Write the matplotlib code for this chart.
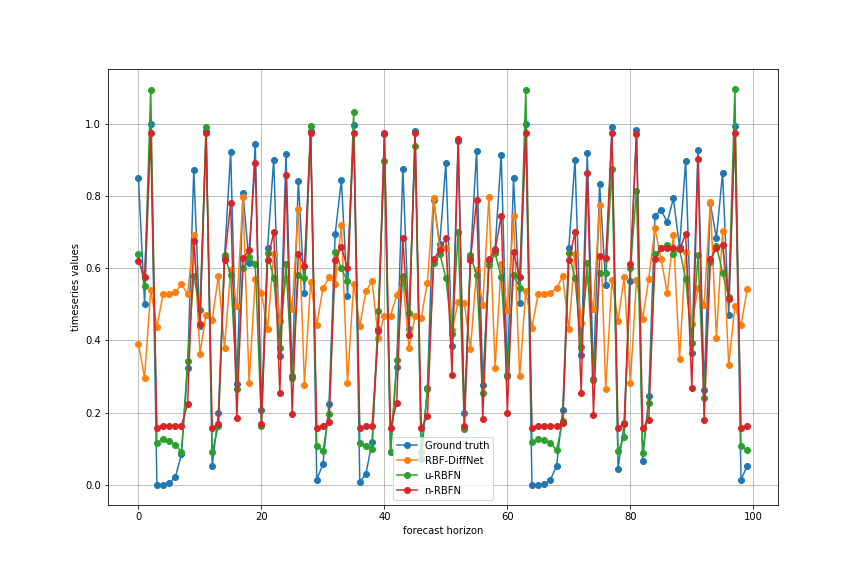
import matplotlib
matplotlib.use("Agg")
import matplotlib.pyplot as plt
import numpy as np

ground_truth = [0.85, 0.50, 1.00, 0.0, 0.0, 0.005, 0.021, 0.085, 0.322, 0.872,
                0.44, 0.98, 0.052, 0.198, 0.63, 0.921, 0.28, 0.807, 0.615, 0.944,
                0.206, 0.656, 0.90, 0.356, 0.917, 0.30, 0.842, 0.53, 0.98, 0.014,
                0.057, 0.225, 0.694, 0.844, 0.522, 0.997, 0.008, 0.03, 0.119, 0.43,
                0.97, 0.09, 0.326, 0.875, 0.431, 0.979, 0.07, 0.268, 0.789, 0.666,
                0.891, 0.383, 0.951, 0.198, 0.63, 0.925, 0.275, 0.62, 0.652, 0.914,
                0.30, 0.849, 0.502, 1.0, 0.0, 0.0, 0.002, 0.014, 0.052, 0.206,
                0.656, 0.90, 0.358, 0.919, 0.292, 0.833, 0.553, 0.99, 0.044, 0.17,
                0.564, 0.983, 0.067, 0.247, 0.744, 0.761, 0.727, 0.793, 0.659, 0.897,
                0.366, 0.928, 0.263, 0.78, 0.683, 0.863, 0.469, 0.994, 0.014, 0.053]

rbf_diffnet = [0.39, 0.297, 0.539, 0.436, 0.528, 0.528, 0.533, 0.555, 0.528, 0.692,
               0.363, 0.471, 0.456, 0.578, 0.38, 0.596, 0.494, 0.798, 0.282, 0.569,
               0.532, 0.432, 0.639, 0.453, 0.571, 0.488, 0.763, 0.277, 0.561, 0.442,
               0.544, 0.574, 0.557, 0.719, 0.282, 0.557, 0.439, 0.536, 0.564, 0.407,
               0.468, 0.468, 0.525, 0.57, 0.379, 0.468, 0.463, 0.56, 0.794, 0.655,
               0.656, 0.428, 0.506, 0.502, 0.377, 0.594, 0.497, 0.798, 0.323, 0.611,
               0.483, 0.744, 0.30, 0.537, 0.435, 0.528, 0.528, 0.532, 0.544, 0.577,
               0.432, 0.639, 0.449, 0.569, 0.488, 0.775, 0.264, 0.567, 0.453, 0.576,
               0.282, 0.567, 0.46, 0.571, 0.71, 0.624, 0.532, 0.692, 0.349, 0.644,
               0.444, 0.544, 0.499, 0.782, 0.407, 0.703, 0.332, 0.494, 0.441, 0.541]

u_rbfn = [0.64, 0.55, 1.094, 0.116, 0.127, 0.122, 0.11, 0.092, 0.344, 0.579,
          0.485, 0.99, 0.092, 0.162, 0.636, 0.582, 0.266, 0.599, 0.631, 0.611,
          0.164, 0.641, 0.573, 0.379, 0.611, 0.295, 0.582, 0.572, 0.994, 0.108,
          0.094, 0.197, 0.645, 0.599, 0.563, 1.032, 0.115, 0.106, 0.099, 0.481,
          0.897, 0.09, 0.346, 0.578, 0.476, 0.937, 0.09, 0.264, 0.613, 0.64,
          0.573, 0.417, 0.699, 0.155, 0.636, 0.58, 0.255, 0.608, 0.641, 0.574,
          0.305, 0.58, 0.546, 1.094, 0.118, 0.127, 0.124, 0.116, 0.096, 0.176,
          0.641, 0.573, 0.381, 0.613, 0.291, 0.587, 0.587, 0.875, 0.094, 0.131,
          0.599, 0.812, 0.088, 0.227, 0.638, 0.655, 0.664, 0.639, 0.652, 0.57,
          0.392, 0.636, 0.241, 0.618, 0.662, 0.587, 0.519, 1.096, 0.108, 0.096]

n_rbfn = [0.62, 0.576, 0.974, 0.157, 0.164, 0.164, 0.164, 0.164, 0.224, 0.674,
          0.444, 0.975, 0.157, 0.169, 0.621, 0.78, 0.185, 0.627, 0.649, 0.891,
          0.167, 0.621, 0.699, 0.254, 0.858, 0.197, 0.639, 0.607, 0.974, 0.157,
          0.164, 0.174, 0.621, 0.659, 0.599, 0.974, 0.157, 0.164, 0.164, 0.425,
          0.974, 0.157, 0.227, 0.682, 0.416, 0.974, 0.157, 0.19, 0.624, 0.65,
          0.682, 0.305, 0.956, 0.164, 0.622, 0.789, 0.182, 0.624, 0.65, 0.744,
          0.199, 0.644, 0.574, 0.974, 0.157, 0.164, 0.164, 0.164, 0.164, 0.17,
          0.621, 0.699, 0.255, 0.863, 0.194, 0.633, 0.627, 0.974, 0.157, 0.169,
          0.611, 0.972, 0.157, 0.18, 0.624, 0.655, 0.655, 0.655, 0.652, 0.694,
          0.269, 0.902, 0.178, 0.624, 0.655, 0.664, 0.514, 0.974, 0.157, 0.163]

series_labels = ["Ground truth", "RBF-DiffNet", "u-RBFN", "n-RBFN"]

fig, ax = plt.subplots(figsize=(12, 8), dpi=72)
fig.subplots_adjust(bottom=0.124, top=0.88)
x = np.arange(len(ground_truth))
for data, lab in zip([ground_truth, rbf_diffnet, u_rbfn, n_rbfn], series_labels):
    ax.plot(x, data, marker='o', label=lab)
ax.set_xlabel("forecast horizon")
ax.set_ylabel("timeseries values")
ax.grid(True)
ax.legend(loc='lower center')
fig.savefig("out.png", dpi=72)
